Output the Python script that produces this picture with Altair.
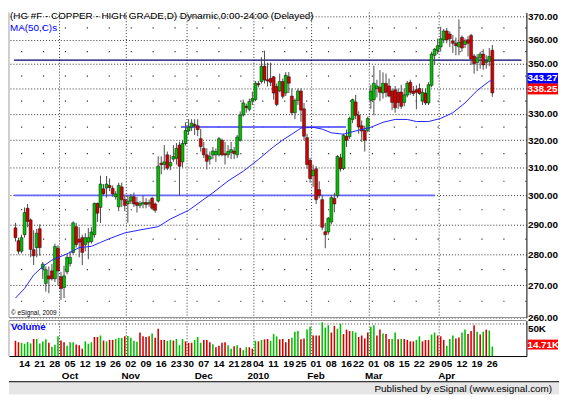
import altair as alt
import pandas as pd

FONT = "Liberation Sans"
W = 524          # plot width (both panels)
PH = 309         # price panel height
VH = 36          # volume panel height
XDOM = [-0.5, 166.6]

title_text = "(HG #F - COPPER - HIGH GRADE,D) Dynamic,0:00-24:00 (Delayed)"
ma_text = "MA(50,C)s"
copy_text = "\u00a9 eSignal, 2009"
footer_text = "Published by eSignal (www.esignal.com)"

# daily candles, trading days 10 Sep 2009 .. 27 Apr 2010 (index 0..157)
opens = [288.8, 284.5, 281.0, 286.5, 295.5, 291.5, 281.5, 282.2, 288.5, 275.3,
         270.6, 273.0, 274.6, 272.1, 282.0, 272.7, 269.3, 274.3, 277.0, 280.6,
         289.2, 285.0, 285.5, 283.2, 284.0, 284.2, 286.5, 297.2, 295.8, 302.3,
         302.6, 303.5, 302.5, 299.5, 296.0, 303.0, 298.5, 297.0, 298.0, 299.5,
         297.5, 296.5, 297.0, 297.5, 297.0, 299.0, 297.0, 298.0, 311.5, 311.0,
         314.6, 310.5, 313.0, 313.3, 318.2, 312.0, 318.8, 323.5, 325.0, 326.0,
         325.5, 320.6, 317.0, 314.6, 313.0, 314.5, 314.6, 314.6, 320.0, 315.0,
         314.6, 315.5, 316.0, 314.6, 320.0, 329.6, 333.0, 331.8, 335.0, 335.6,
         342.0, 342.8, 349.0, 343.5, 344.0, 344.7, 340.8, 339.0, 342.8, 338.2,
         344.7, 337.0, 330.5, 335.3, 339.0, 332.0, 321.0, 312.6, 307.0, 309.5,
         302.0, 298.5, 287.5, 287.4, 290.8, 299.0, 299.9, 313.5, 309.6, 321.5,
         321.3, 327.9, 334.7, 329.5, 325.5, 323.7, 323.7, 335.3, 335.6, 340.0,
         340.5, 338.2, 342.0, 341.0, 339.0, 339.5, 338.5, 338.6, 334.5, 337.4,
         342.5, 339.0, 339.5, 340.0, 335.0, 338.2, 334.3, 341.3, 353.5, 355.5,
         357.0, 359.9, 363.7, 362.4, 359.5, 358.5, 357.0, 361.0, 358.0, 360.0,
         361.8, 353.2, 350.5, 352.5, 354.0, 350.5, 351.0, 355.6]
highs = [290.5, 285.5, 286.5, 295.8, 297.0, 292.0, 288.0, 288.5, 290.0, 277.5,
         276.0, 276.0, 276.8, 283.5, 283.0, 274.3, 276.3, 280.0, 281.0, 291.0,
         290.5, 289.0, 286.5, 287.0, 288.7, 289.0, 297.5, 297.5, 307.0, 304.0,
         306.9, 306.0, 303.5, 301.5, 304.5, 304.5, 300.0, 300.0, 300.5, 301.0,
         299.5, 298.0, 300.0, 299.0, 298.5, 299.5, 297.5, 314.0, 314.0, 318.2,
         315.8, 314.6, 318.2, 319.0, 319.5, 320.0, 326.8, 328.0, 328.0, 328.0,
         328.0, 324.3, 319.4, 317.0, 315.8, 317.5, 317.0, 321.2, 320.6, 319.4,
         318.2, 319.4, 317.5, 322.0, 331.0, 335.6, 334.0, 336.0, 338.8, 343.0,
         343.0, 352.7, 355.4, 350.5, 350.5, 345.0, 342.0, 346.0, 344.0, 346.6,
         346.6, 340.0, 336.0, 340.0, 340.0, 334.3, 322.5, 313.5, 311.0, 310.5,
         305.0, 300.0, 290.5, 292.5, 300.0, 300.9, 314.5, 315.0, 322.5, 324.0,
         329.0, 336.0, 337.5, 331.0, 327.5, 325.5, 329.0, 341.5, 349.2, 343.5,
         347.4, 346.5, 346.0, 344.0, 340.0, 341.0, 340.0, 341.5, 340.0, 343.0,
         343.5, 341.0, 341.3, 342.0, 340.0, 340.0, 342.5, 355.0, 356.5, 360.5,
         365.5, 364.5, 365.0, 363.5, 362.0, 361.0, 368.7, 361.8, 360.5, 361.5,
         362.5, 354.0, 354.0, 355.0, 356.0, 353.5, 356.5, 357.8]
lows = [284.2, 280.0, 280.3, 285.5, 289.0, 279.0, 276.5, 279.0, 279.5, 272.0,
        268.0, 267.5, 271.5, 271.0, 270.0, 265.4, 266.0, 273.5, 276.0, 280.0,
        282.2, 279.0, 276.5, 281.0, 278.4, 283.5, 285.5, 290.8, 290.5, 300.0,
        299.2, 301.5, 299.5, 298.5, 294.5, 296.0, 294.5, 290.5, 297.0, 296.0,
        294.0, 295.5, 295.5, 295.5, 296.0, 295.0, 294.0, 297.5, 307.5, 309.0,
        309.0, 309.0, 312.0, 311.0, 299.9, 310.0, 318.0, 322.0, 323.5, 322.0,
        321.5, 315.8, 313.4, 309.2, 311.0, 313.0, 312.0, 314.0, 314.0, 311.0,
        313.4, 313.0, 313.0, 313.4, 319.5, 329.0, 330.5, 331.0, 333.5, 335.0,
        340.5, 342.0, 342.0, 340.8, 341.0, 335.6, 333.0, 338.5, 336.0, 337.0,
        338.2, 329.5, 328.0, 333.5, 327.0, 320.0, 309.5, 304.5, 303.0, 297.0,
        299.0, 288.0, 282.0, 286.5, 290.0, 294.1, 299.0, 308.5, 309.0, 317.5,
        320.5, 326.5, 328.0, 322.5, 319.4, 315.8, 323.0, 332.0, 329.5, 336.5,
        335.0, 336.0, 336.5, 336.5, 331.5, 330.5, 332.0, 332.0, 333.0, 336.5,
        337.5, 337.0, 331.8, 337.5, 333.5, 333.5, 333.5, 340.5, 349.5, 354.0,
        355.0, 358.5, 358.5, 357.0, 354.5, 353.5, 353.5, 355.0, 356.5, 353.0,
        349.5, 346.0, 347.0, 348.0, 347.5, 348.0, 349.0, 336.7]
closes = [285.5, 281.0, 285.5, 294.0, 291.0, 281.6, 279.5, 287.0, 282.2, 276.8,
          275.0, 272.0, 272.1, 282.6, 274.6, 269.0, 273.0, 279.0, 279.0, 290.5,
          283.2, 284.0, 280.6, 285.5, 285.5, 287.4, 297.2, 293.8, 304.0, 300.6,
          304.0, 302.8, 300.5, 300.5, 303.5, 298.5, 296.5, 298.0, 299.5, 297.0,
          296.5, 297.2, 297.5, 296.8, 297.5, 295.5, 294.8, 310.5, 311.0, 312.0,
          309.7, 311.8, 314.0, 317.0, 310.4, 318.8, 323.7, 325.0, 326.5, 325.5,
          324.0, 317.6, 314.6, 312.2, 314.0, 316.0, 315.8, 320.6, 314.6, 314.5,
          315.8, 316.5, 315.0, 321.2, 329.6, 334.3, 332.5, 334.9, 336.0, 342.1,
          341.5, 349.0, 343.4, 343.0, 342.5, 338.2, 333.7, 342.8, 336.9, 345.3,
          342.1, 330.5, 335.3, 339.0, 331.5, 321.5, 311.0, 306.0, 309.0, 298.5,
          300.0, 289.0, 286.5, 292.1, 299.2, 297.0, 314.0, 309.5, 321.9, 320.0,
          328.3, 335.6, 329.5, 325.0, 323.5, 320.0, 328.3, 339.0, 342.1, 341.0,
          338.5, 342.1, 338.5, 337.0, 334.5, 332.4, 334.5, 333.0, 337.5, 342.1,
          338.5, 338.0, 338.5, 338.0, 338.5, 334.3, 341.5, 354.0, 356.0, 357.5,
          360.4, 363.7, 359.9, 360.4, 358.5, 357.5, 359.0, 356.5, 359.5, 358.5,
          352.0, 350.0, 352.5, 354.0, 349.5, 351.0, 353.0, 338.25]

# daily volume (thousands) and its colour class (B blue, b light blue, R red, r light red)
vol_k = [23.6, 21.4, 20.5, 19.0, 21.8, 19.5, 26.4, 26.4, 19.5, 22.7,
         25.9, 20.5, 14.5, 17.3, 30.5, 24.0, 21.4, 15.9, 21.4, 21.4,
         18.0, 16.8, 11.4, 22.7, 19.0, 21.4, 29.5, 29.5, 31.8, 24.0,
         22.7, 25.0, 25.0, 26.4, 28.2, 28.2, 30.5, 30.9, 28.2, 23.6,
         22.0, 36.4, 30.5, 29.5, 30.5, 35.0, 28.2, 42.3, 25.0, 25.0,
         23.6, 25.0, 24.0, 26.4, 16.8, 26.4, 22.7, 20.5, 20.5, 25.0,
         29.5, 20.5, 25.0, 25.0, 21.4, 18.2, 13.6, 15.9, 20.5, 21.4,
         16.8, 11.4, 15.0, 16.8, 12.7, 9.1, 13.6, 13.6, 11.4, 23.6,
         22.7, 25.0, 25.9, 26.4, 23.6, 34.0, 30.5, 25.9, 26.4, 21.4,
         26.4, 28.2, 37.7, 38.6, 25.9, 27.3, 40.9, 45.5, 31.8, 31.8,
         31.8, 52.3, 44.0, 47.7, 36.4, 46.8, 42.3, 50.0, 34.0, 40.9,
         38.6, 38.6, 36.4, 29.5, 31.8, 27.3, 36.4, 45.5, 47.7, 31.8,
         40.9, 35.0, 34.0, 26.4, 26.4, 36.4, 25.9, 26.4, 26.4, 25.0,
         22.7, 22.7, 25.0, 30.5, 22.7, 25.0, 25.0, 33.2, 36.4, 31.8,
         30.5, 25.0, 15.9, 26.4, 31.8, 27.3, 28.6, 36.4, 40.9, 34.0,
         38.6, 47.7, 37.7, 33.2, 37.7, 40.9, 39.5, 14.71]
vol_cls = list("rrBBRRbBRRBbBBRrbBBBrbrBBBrrRrBbbBRRrBRBBbrrbBrbrrBBbBBBbbrRBRrrrBbbrbBRbBbRBbbBbRbbRBBrrbrRBBrrRRbrrRRBbrBRbbbBRrbrbBBbrBrrRRrBbbrrBRbbbBBbbrRRBbbBBrrrBrBbBR")

# 50-day moving average read at selected bars
ma_i = [0, 3, 6, 9, 12, 15, 18, 21, 25, 28, 31, 36, 41, 47, 51, 57, 65, 70, 75, 80,
        85, 88, 91, 94, 98, 101, 104, 108, 113, 117, 121, 125, 129, 132, 136, 140,
        144, 148, 152, 156, 157]
ma_v = [266.0, 269.0, 273.3, 276.0, 278.1, 279.3, 280.6, 282.2, 282.6, 283.9,
        285.2, 287.1, 288.1, 289.2, 291.8, 294.8, 300.9, 305.1, 308.6, 312.9,
        317.6, 320.1, 322.3, 324.6, 324.9, 324.2, 322.8, 322.3, 323.8, 324.9,
        326.8, 327.9, 327.9, 327.1, 327.1, 328.3, 330.5, 334.3, 339.2, 342.9, 343.27]

# drawn horizontal lines: level, start bar, end bar
hl_lvl = [300.0, 325.0]
hl_x0 = [-0.5, 54.5]
hl_x1 = [138.0, 108.8]
navy_lvl = [351.5]

price_ticks = [260, 270, 280, 290, 300, 310, 320, 330, 340, 350, 360, 370]
minor_lvls = [265, 275, 285, 295, 305, 315, 325, 335, 345, 355, 365]

tick_idx = [2, 7, 12, 17, 22, 27, 32, 37, 42, 47, 52, 56, 61, 66, 71, 75, 79, 84, 89, 93,
            98, 103, 108, 112, 117, 122, 127, 132, 137, 141, 146, 151, 156]
tick_lbl = ["14", "21", "28", "05", "12", "19", "26", "02", "09", "16", "23", "30", "07",
            "14", "21", "28", "04", "11", "19", "25", "01", "08", "16", "22", "01", "08",
            "15", "22", "29", "05", "12", "19", "26"]
month_idx = [17, 37, 61, 79, 98, 117, 141]
month_lbl = ["Oct", "Nov", "Dec", "2010", "Feb", "Mar", "Apr"]
month_start = [15, 37, 57, 79, 98, 117, 140]

# ---------------------------------------------------------------- tables
n = len(closes)
bars = pd.DataFrame({"i": list(range(n)), "o": opens, "h": highs, "l": lows, "c": closes})
bars["d"] = ["up" if c >= o else "down" for o, c in zip(opens, closes)]
vol = pd.DataFrame({"i": list(range(n)), "v": vol_k, "k": vol_cls[:n]})
ma = pd.DataFrame({"i": ma_i, "m": ma_v})
hl = pd.DataFrame({"lvl": hl_lvl, "x0": hl_x0, "x1": hl_x1})
navy = pd.DataFrame({"lvl": navy_lvl, "x0": [XDOM[0]], "x1": [XDOM[1]]})
mgrid = pd.DataFrame({"m": [s - 0.5 for s in month_start]})
days = pd.DataFrame({"i": tick_idx, "t": tick_lbl})
months = pd.DataFrame({"i": month_idx, "t": month_lbl})

xs = alt.Scale(domain=XDOM, nice=False, zero=False)
ys = alt.Scale(type="log", domain=[260, 371.7], nice=False)
vs = alt.Scale(domain=[0, 55], nice=False, zero=True)

def X(f="i"):
    return alt.X(f"{f}:Q", scale=xs, title=None)

def Yp(f):
    return alt.Y(f"{f}:Q", scale=ys, title=None)

one = pd.DataFrame({"t": [""]})
GRID = "#1a1a1a"

price_axis = alt.Axis(orient="right", values=price_ticks, format=".2f", grid=True,
                      gridDash=[1, 2], gridColor=GRID, gridOpacity=0.9, ticks=False,
                      domain=True, domainColor="#000000", domainWidth=1, labelPadding=1,
                      labelFont=FONT, labelFontSize=10, labelFontWeight="bold",
                      labelColor="#000000", labelFlush=False, labelOverlap=False)
no_x = alt.Axis(labels=False, ticks=False, grid=False, domain=False)

axis_layer = alt.Chart(pd.DataFrame({"v": price_ticks})).mark_rule(opacity=0).encode(
    y=alt.Y("v:Q", scale=ys, axis=price_axis, title=None))

minor = alt.Chart(pd.DataFrame({"v": minor_lvls})).mark_rule(
    color=GRID, strokeDash=[1.2, 21], strokeWidth=1.2, opacity=0.9).encode(y=Yp("v"))

vgrid = alt.Chart(mgrid).mark_rule(color=GRID, strokeDash=[1, 2], strokeWidth=1, opacity=0.9).encode(
    x=alt.X("m:Q", scale=xs, axis=no_x, title=None))

hlines = alt.Chart(hl).mark_rule(color="#5c5cff", strokeWidth=2, opacity=0.9).encode(
    x=X("x0"), x2="x1:Q", y=Yp("lvl"))
navy_line = alt.Chart(navy).mark_rule(color="#00006e", strokeWidth=1.2).encode(
    x=X("x0"), x2="x1:Q", y=Yp("lvl"))

ma_line = alt.Chart(ma).mark_line(color="#2222ff", strokeWidth=1).encode(x=X(), y=Yp("m"))

wick = alt.Chart(bars).mark_rule(color="#4a4a4a", strokeWidth=1).encode(
    x=X(), y=Yp("l"), y2="h:Q")
body = alt.Chart(bars).mark_bar(width=3.0, stroke="#101010", strokeWidth=0.5).encode(
    x=X(), y=Yp("o"), y2="c:Q",
    color=alt.Color("d:N", scale=alt.Scale(domain=["up", "down"], range=["#00c000", "#d40000"]),
                    legend=None))

title_mark = alt.Chart(one).mark_text(align="left", baseline="middle", font=FONT, fontSize=10,
                                      color="#000000").encode(
    x=alt.value(1), y=alt.value(4), text=alt.value(title_text))
ma_label = alt.Chart(one).mark_text(align="left", baseline="middle", font=FONT, fontSize=10,
                                    color="#0000ff").encode(
    x=alt.value(1), y=alt.value(16), text=alt.value(ma_text))
copy_mark = alt.Chart(one).mark_text(align="left", baseline="middle", font=FONT, fontSize=6.5,
                                     color="#000000").encode(
    x=alt.value(2), y=alt.value(PH - 5), text=alt.value(copy_text))

ma_box = pd.DataFrame({"v": [ma_v[-1]], "t": [f"{ma_v[-1]:.2f}"]})
cl_box = pd.DataFrame({"v": [closes[-1]], "t": [f"{closes[-1]:.2f}"]})
ma_rect = alt.Chart(ma_box).mark_rect(color="#0000ff", yOffset=-7.5, y2Offset=3.5).encode(
    x=alt.value(W + 1), x2=alt.value(W + 32), y=Yp("v"), y2="v:Q")
ma_txt = alt.Chart(ma_box).mark_text(color="white", font=FONT, fontSize=10, fontWeight="bold",
                                     align="left", baseline="middle", dy=-2).encode(
    x=alt.value(W + 1), y=Yp("v"), text="t:N")
cl_rect = alt.Chart(cl_box).mark_rect(color="#ff0000", yOffset=-9.5, y2Offset=1.5).encode(
    x=alt.value(W + 1), x2=alt.value(W + 32), y=Yp("v"), y2="v:Q")
cl_txt = alt.Chart(cl_box).mark_text(color="white", font=FONT, fontSize=10, fontWeight="bold",
                                     align="left", baseline="middle", dy=-4).encode(
    x=alt.value(W + 1), y=Yp("v"), text="t:N")

frame_p = alt.Chart(one).mark_rule(color="#a0a0a0", strokeWidth=1).encode(
    x=alt.value(0), y=alt.value(0), y2=alt.value(PH))
sep_p = alt.Chart(one).mark_rule(color="#909090", strokeWidth=1).encode(
    x=alt.value(0), x2=alt.value(W), y=alt.value(PH))

price = alt.layer(axis_layer, vgrid, minor, hlines, navy_line, wick, body, ma_line,
                  title_mark, ma_label, copy_mark, ma_rect, ma_txt, cl_rect, cl_txt,
                  frame_p, sep_p).properties(width=W, height=PH)

# ---------------------------------------------------------------- volume panel
vol_axis = alt.Axis(orient="right", values=[50], labelExpr="'50K'", grid=True, gridDash=[1, 2],
                    gridColor=GRID, gridOpacity=0.9, ticks=False, domain=True,
                    domainColor="#000000", labelPadding=1, labelFont=FONT, labelFontSize=10,
                    labelFontWeight="bold", labelColor="#000000", labelBaseline="top",
                    labelFlush=False)
x_axis = alt.Axis(labels=False, ticks=False, grid=False, domain=True, domainColor="#000000",
                  domainWidth=1)

vbars = alt.Chart(vol).mark_bar(width=1.6).encode(
    x=alt.X("i:Q", scale=xs, axis=x_axis, title=None),
    y=alt.Y("v:Q", scale=vs, axis=vol_axis, title=None),
    color=alt.Color("k:N", scale=alt.Scale(domain=["B", "b", "R", "r"],
                                           range=["#0000ff", "#8c8cff", "#ff0000", "#ff8c8c"]),
                    legend=None))
vgrid2 = alt.Chart(mgrid).mark_rule(color=GRID, strokeDash=[1, 2], strokeWidth=1, opacity=0.9).encode(
    x=X("m"))
vol_label = alt.Chart(one).mark_text(align="left", baseline="middle", font=FONT, fontSize=10,
                                     fontWeight="bold", color="#0000ff").encode(
    x=alt.value(2), y=alt.value(7), text=alt.value("Volume"))
last_vol = pd.DataFrame({"v": [vol_k[-1]], "t": [f"{vol_k[-1]:.2f}K"]})
lv_rect = alt.Chart(last_vol).mark_rect(color="#ff0000", yOffset=-7, y2Offset=3).encode(
    x=alt.value(W + 1), x2=alt.value(W + 32),
    y=alt.Y("v:Q", scale=vs, title=None), y2="v:Q")
lv_txt = alt.Chart(last_vol).mark_text(color="white", font=FONT, fontSize=10, fontWeight="bold",
                                       align="left", baseline="middle", dy=-2).encode(
    x=alt.value(W + 1), y=alt.Y("v:Q", scale=vs, title=None), text="t:N")
day_txt = alt.Chart(days).mark_text(font=FONT, fontSize=10, fontWeight="bold", color="#000000",
                                    baseline="middle", dx=3).encode(
    x=X(), y=alt.value(VH + 8), text="t:N")
mon_txt = alt.Chart(months).mark_text(font=FONT, fontSize=10, fontWeight="bold", color="#000000",
                                      baseline="middle", dx=3).encode(
    x=X(), y=alt.value(VH + 20), text="t:N")
footer_bg = alt.Chart(one).mark_rect(color="#e6e6e6").encode(
    x=alt.value(0), x2=alt.value(557), y=alt.value(VH + 26), y2=alt.value(VH + 39))
footer_line = alt.Chart(one).mark_rule(color="#000000", strokeWidth=1).encode(
    x=alt.value(0), x2=alt.value(557), y=alt.value(VH + 26))
footer_txt = alt.Chart(one).mark_text(align="right", baseline="middle", font=FONT, fontSize=10,
                                      color="#000000").encode(
    x=alt.value(550), y=alt.value(VH + 33), text=alt.value(footer_text))
frame_v = alt.Chart(one).mark_rule(color="#909090", strokeWidth=1).encode(
    x=alt.value(0), x2=alt.value(W), y=alt.value(0))
frame_vl = alt.Chart(one).mark_rule(color="#a0a0a0", strokeWidth=1).encode(
    x=alt.value(0), y=alt.value(0), y2=alt.value(VH))

volume = alt.layer(vbars, vgrid2, vol_label, lv_rect, lv_txt, day_txt, mon_txt,
                   footer_bg, footer_line, footer_txt, frame_v, frame_vl).properties(width=W, height=VH)

chart = alt.vconcat(price, volume, spacing=3, bounds="flush").properties(
    padding=0, background="white").configure_view(stroke=None)

chart.save("out.html", embed_options={"renderer": "svg", "actions": False})
